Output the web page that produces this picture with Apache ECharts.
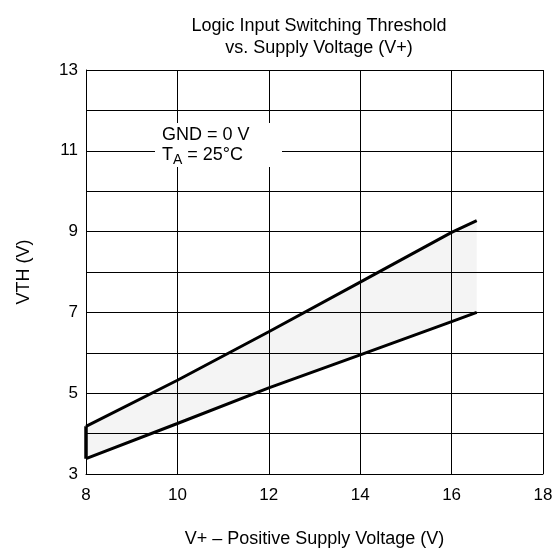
<!DOCTYPE html>
<html>
<head>
<meta charset="utf-8">
<script src="https://cdn.jsdelivr.net/npm/echarts@6/dist/echarts.min.js"></script>
<style>
html,body{margin:0;padding:0;background:#fff;}
#c{width:553px;height:548px;}
</style>
</head>
<body>
<div id="c"></div>
<script>
var supplyV = [8, 10, 12, 14, 16, 16.55];
var upperVth = [4.18, 5.32, 6.52, 7.75, 8.98, 9.27];
var lowerVth = [3.38, 4.25, 5.13, 5.95, 6.77, 7.0];
var xTicks = [8, 10, 12, 14, 16, 18];
var yTickLabels = [3, 5, 7, 9, 11, 13];

var upperPts = supplyV.map(function (x, i) { return [x, upperVth[i]]; });
var lowerPts = supplyV.map(function (x, i) { return [x, lowerVth[i]]; });
var leftEdge = [[supplyV[0], lowerVth[0]], [supplyV[0], upperVth[0]]];

var FONT = 'Liberation Sans, Arial, sans-serif';
var chart = echarts.init(document.getElementById('c'));
chart.setOption({
  animation: false,
  backgroundColor: '#fff',
  title: {
    text: 'Logic Input Switching Threshold\nvs. Supply Voltage (V+)',
    left: 314, top: 10, textAlign: 'center',
    textStyle: { fontFamily: FONT, fontSize: 18, fontWeight: 'normal', color: '#000', lineHeight: 22 }
  },
  grid: { left: 86, right: 10, top: 70, bottom: 74, containLabel: false, outerBoundsMode: 'none' },
  xAxis: {
    type: 'value', min: 8, max: 18, interval: 2,
    name: 'V+ – Positive Supply Voltage (V)', nameLocation: 'middle', nameGap: 56,
    nameTextStyle: { fontFamily: FONT, fontSize: 18, color: '#000' },
    axisLine: { show: true, lineStyle: { color: '#000', width: 1 } },
    axisTick: { show: false },
    axisLabel: { fontFamily: FONT, fontSize: 17, color: '#000', margin: 13,
      formatter: function (v) { return xTicks.indexOf(v) >= 0 ? String(v) : ''; } },
    splitLine: { show: true, lineStyle: { color: '#000', width: 1 } }
  },
  yAxis: {
    type: 'value', min: 3, max: 13, interval: 1,
    name: 'VTH (V)', nameLocation: 'middle', nameGap: 53,
    nameTextStyle: { fontFamily: FONT, fontSize: 18, color: '#000' },
    axisLine: { show: true, lineStyle: { color: '#000', width: 1 } },
    axisTick: { show: false },
    axisLabel: { fontFamily: FONT, fontSize: 17, color: '#000', margin: 8, padding: [8, 0, 0, 0],
      formatter: function (v) { return yTickLabels.indexOf(v) >= 0 ? String(v) : ''; } },
    splitLine: { show: true, lineStyle: { color: '#000', width: 1 } }
  },
  graphic: [
    { type: 'rect', z: 100, shape: { x: 155, y: 123, width: 127, height: 44 }, style: { fill: '#fff' } },
    { type: 'text', z: 101, left: 162, top: 126,
      style: { text: 'GND = 0 V', font: '18px Liberation Sans', fill: '#000' } },
    { type: 'text', z: 101, left: 162, top: 146,
      style: {
        text: '{a|T}{s|A}{a| = 25°C}',
        rich: {
          a: { fontFamily: FONT, fontSize: 18, color: '#000' },
          s: { fontFamily: FONT, fontSize: 14, color: '#000', padding: [10, 0, 0, 0] }
        }
      } }
  ],
  series: [
    { type: 'custom', silent: true, z: 1,
      data: [[supplyV[0], lowerVth[0]]],
      renderItem: function (params, api) {
        var pts = upperPts.map(function (p) { return api.coord(p); })
          .concat(lowerPts.slice().reverse().map(function (p) { return api.coord(p); }));
        return { type: 'polygon', shape: { points: pts }, style: { fill: 'rgba(0,0,0,0.045)' } };
      } },
    { type: 'line', data: upperPts, symbol: 'none', z: 3, lineStyle: { color: '#000', width: 3 } },
    { type: 'line', data: lowerPts, symbol: 'none', z: 3, lineStyle: { color: '#000', width: 3 } },
    { type: 'line', data: leftEdge, symbol: 'none', z: 3, lineStyle: { color: '#000', width: 3.5 } }
  ]
});
</script>
</body>
</html>
